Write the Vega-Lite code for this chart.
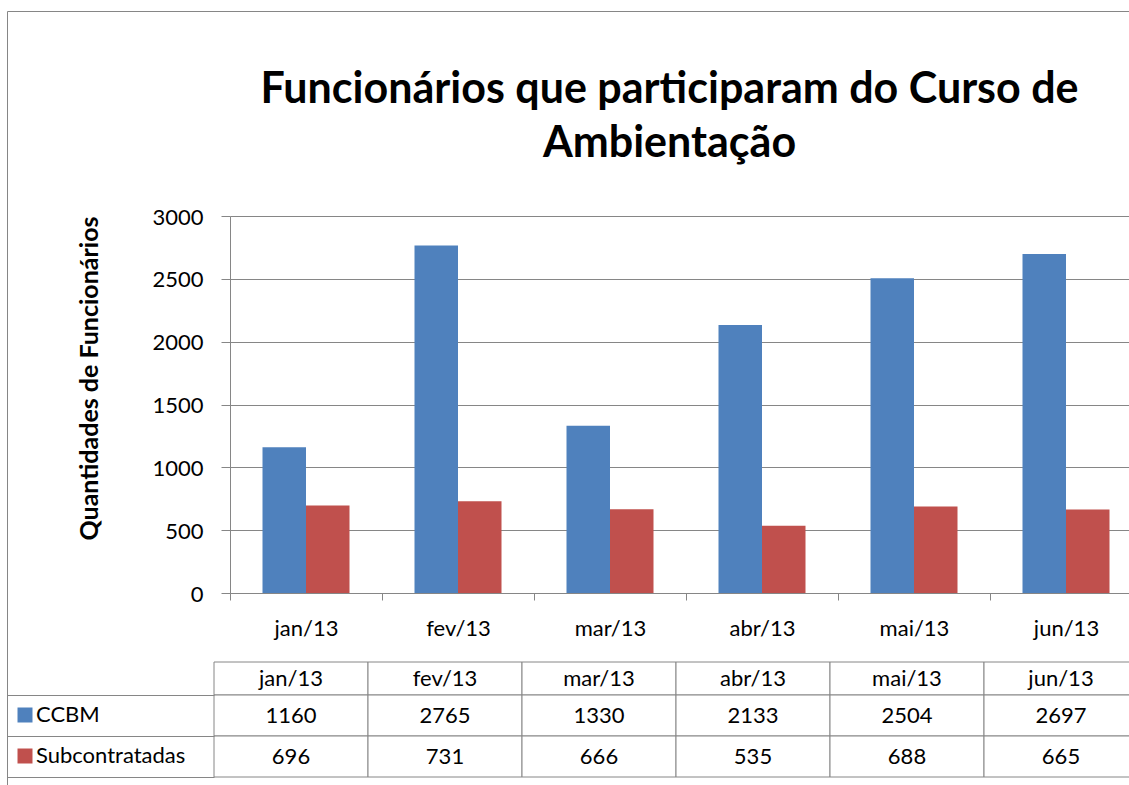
{
  "$schema": "https://vega.github.io/schema/vega-lite/v6.json",
  "width": 1125,
  "height": 778,
  "autosize": {"type": "none"},
  "padding": {"left": 7, "top": 11, "right": -3, "bottom": -4},
  "background": "white",
  "config": {
    "font": "Lato",
    "view": {"stroke": "#868686", "strokeWidth": 1},
    "axis": {"labelFont": "Lato", "titleFont": "Lato", "labelColor": "#000000", "titleColor": "#000000"},
    "legend": {"labelFont": "Lato", "labelColor": "#000000"}
  },
  "title": {
    "text": ["Funcionários que participaram do Curso de", "Ambientação"],
    "font": "Lato",
    "fontSize": 43,
    "fontWeight": "bold",
    "color": "#000000",
    "anchor": "middle",
    "frame": "group",
    "offset": 0,
    "baseline": "alphabetic",
    "lineHeight": 54,
    "dy": 189,
    "dx": 100
  },
  "data": {
    "values": [
      {"month": "jan/13", "series": "CCBM", "value": 1160},
      {"month": "jan/13", "series": "Subcontratadas", "value": 696},
      {"month": "fev/13", "series": "CCBM", "value": 2765},
      {"month": "fev/13", "series": "Subcontratadas", "value": 731},
      {"month": "mar/13", "series": "CCBM", "value": 1330},
      {"month": "mar/13", "series": "Subcontratadas", "value": 666},
      {"month": "abr/13", "series": "CCBM", "value": 2133},
      {"month": "abr/13", "series": "Subcontratadas", "value": 535},
      {"month": "mai/13", "series": "CCBM", "value": 2504},
      {"month": "mai/13", "series": "Subcontratadas", "value": 688},
      {"month": "jun/13", "series": "CCBM", "value": 2697},
      {"month": "jun/13", "series": "Subcontratadas", "value": 665}
    ]
  },
  "layer": [
    {
      "mark": {"type": "bar"},
      "encoding": {
        "x": {
          "field": "month", "type": "nominal",
          "sort": ["jan/13", "fev/13", "mar/13", "abr/13", "mai/13", "jun/13"],
          "scale": {"range": [223, 1135], "paddingInner": 0, "paddingOuter": 0},
          "axis": {
            "orient": "bottom", "offset": -196, "tickBand": "extent", "tickSize": 7,
            "tickColor": "#868686", "domainColor": "#868686", "labelFontSize": 22,
            "labelPadding": 18, "labelAngle": 0, "labelBaseline": "top", "title": null, "grid": false
          }
        },
        "xOffset": {
          "field": "series", "type": "nominal", "sort": ["CCBM", "Subcontratadas"],
          "scale": {"paddingInner": 0, "paddingOuter": 0.747}
        },
        "y": {
          "field": "value", "type": "quantitative",
          "scale": {"domain": [0, 3000], "range": [582, 205], "nice": false, "zero": true},
          "axis": {
            "orient": "left", "offset": -223, "values": [0, 500, 1000, 1500, 2000, 2500, 3000],
            "format": "d", "grid": true, "gridColor": "#868686", "gridWidth": 1,
            "domainColor": "#868686", "tickColor": "#868686", "tickSize": 9,
            "labelFontSize": 22, "labelPadding": 18, "labelOffset": 1,
            "title": "Quantidades de Funcionários", "titleFontSize": 25, "titleFontWeight": "bold",
            "titleX": -141, "titleY": 367, "titleAngle": -90, "titleAlign": "center", "titleBaseline": "middle"
          }
        },
        "color": {
          "field": "series", "type": "nominal",
          "scale": {"domain": ["CCBM", "Subcontratadas"], "range": ["#4F81BD", "#C0504D"]},
          "legend": {
            "orient": "none", "legendX": 7, "legendY": 693, "title": null, "padding": 0,
            "symbolType": "square", "symbolSize": 225, "symbolStrokeWidth": 0, "symbolOpacity": 1,
            "labelFontSize": 22, "labelOffset": 0, "rowPadding": 19, "direction": "vertical"
          }
        }
      }
    },
    {
      "transform": [{"filter": "datum.series === 'CCBM'"}],
      "encoding": {
        "x": {
          "field": "month", "type": "nominal",
          "sort": ["jan/13", "fev/13", "mar/13", "abr/13", "mai/13", "jun/13"],
          "scale": {"range": [207, 1131], "paddingInner": 0, "paddingOuter": 0},
          "axis": null
        },
        "y": {
          "field": "series", "type": "nominal",
          "scale": {"range": [651, 684], "paddingInner": 0, "paddingOuter": 0},
          "axis": null
        }
      },
      "layer": [
        {"mark": {"type": "rect", "fill": "white", "stroke": "#868686", "strokeWidth": 1}},
        {
          "mark": {"type": "text", "fontSize": 22, "font": "Lato", "color": "#000000", "align": "center", "baseline": "middle"},
          "encoding": {"text": {"field": "month", "type": "nominal"}}
        }
      ]
    },
    {
      "encoding": {
        "x": {
          "field": "month", "type": "nominal",
          "sort": ["jan/13", "fev/13", "mar/13", "abr/13", "mai/13", "jun/13"],
          "scale": {"range": [207, 1131], "paddingInner": 0, "paddingOuter": 0},
          "axis": null
        },
        "y": {
          "field": "series", "type": "nominal", "sort": ["CCBM", "Subcontratadas"],
          "scale": {"range": [684, 766], "paddingInner": 0, "paddingOuter": 0},
          "axis": {
            "orient": "left", "offset": -207, "domain": false, "tickBand": "extent",
            "tickSize": 207, "tickColor": "#868686", "labels": false, "title": null, "grid": false
          }
        }
      },
      "layer": [
        {"mark": {"type": "rect", "fill": "white", "stroke": "#868686", "strokeWidth": 1}},
        {
          "mark": {"type": "text", "fontSize": 22, "font": "Lato", "color": "#000000", "align": "center", "baseline": "middle"},
          "encoding": {"text": {"field": "value", "type": "quantitative", "format": "d"}}
        }
      ]
    }
  ],
  "resolve": {"scale": {"x": "independent", "y": "independent"}}
}
